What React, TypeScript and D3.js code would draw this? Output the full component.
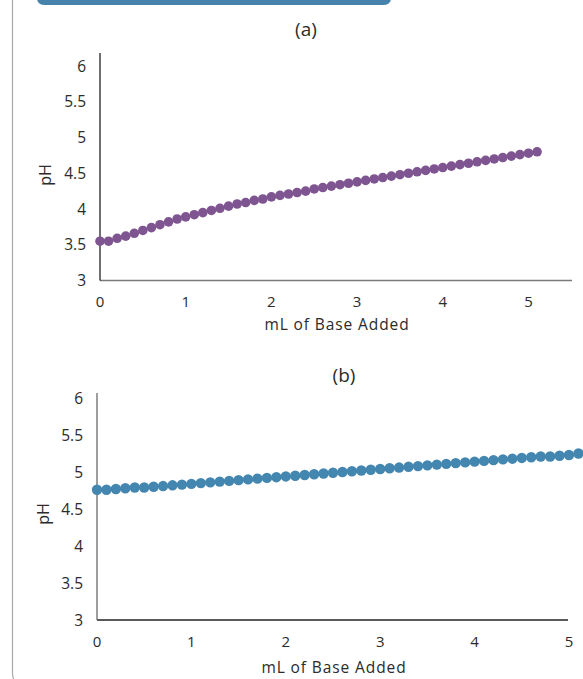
import React from "react";
import * as d3 from "d3";

const baseAdded: number[] = [
  0, 0.1, 0.2, 0.3, 0.4, 0.5, 0.6, 0.7, 0.8, 0.9,
  1.0, 1.1, 1.2, 1.3, 1.4, 1.5, 1.6, 1.7, 1.8, 1.9,
  2.0, 2.1, 2.2, 2.3, 2.4, 2.5, 2.6, 2.7, 2.8, 2.9,
  3.0, 3.1, 3.2, 3.3, 3.4, 3.5, 3.6, 3.7, 3.8, 3.9,
  4.0, 4.1, 4.2, 4.3, 4.4, 4.5, 4.6, 4.7, 4.8, 4.9,
  5.0, 5.1,
];

const phA: number[] = [
  3.55, 3.55, 3.59, 3.62, 3.66, 3.70, 3.74, 3.78, 3.82, 3.86,
  3.89, 3.92, 3.95, 3.98, 4.01, 4.04, 4.07, 4.09, 4.12, 4.14,
  4.17, 4.19, 4.21, 4.23, 4.25, 4.28, 4.30, 4.32, 4.34, 4.36,
  4.38, 4.40, 4.42, 4.44, 4.46, 4.48, 4.50, 4.52, 4.54, 4.56,
  4.58, 4.60, 4.62, 4.64, 4.66, 4.68, 4.70, 4.72, 4.74, 4.76,
  4.78, 4.80,
];

const phB: number[] = [
  4.76, 4.76, 4.77, 4.78, 4.79, 4.79, 4.80, 4.81, 4.82, 4.83,
  4.84, 4.85, 4.86, 4.87, 4.88, 4.89, 4.90, 4.91, 4.92, 4.93,
  4.94, 4.95, 4.96, 4.97, 4.98, 4.99, 5.00, 5.01, 5.02, 5.03,
  5.04, 5.05, 5.06, 5.07, 5.08, 5.09, 5.10, 5.11, 5.12, 5.13,
  5.14, 5.15, 5.16, 5.17, 5.18, 5.19, 5.20, 5.21, 5.21, 5.22,
  5.23, 5.25,
];

const yTicks: number[] = [3, 3.5, 4, 4.5, 5, 5.5, 6];
const xTicks: number[] = [0, 1, 2, 3, 4, 5];

const FONT = "'Open Sans', 'Noto Sans', sans-serif";
const TEXT = "#2b2b2b";

type PanelProps = {
  title: string;
  values: number[];
  color: string;
  x0: number; x1: number; xMax: number;
  y0: number; y6: number; yAxisTop: number;
  xAxisEnd: number;
  r: number;
  titleX: number; titleY: number;
  xLabelX: number; xLabelY: number;
  yLabelX: number; yLabelY: number;
  tickRight: number;
  xAxisColor: string;
  yAxisColor: string;
};

function Panel(p: PanelProps) {
  const x = d3.scaleLinear().domain([0, p.xMax]).range([p.x0, p.x1]);
  const y = d3.scaleLinear().domain([3, 6]).range([p.y0, p.y6]);
  const fmt = (v: number) => String(v);
  return (
    <g>
      <text x={p.titleX} y={p.titleY} textAnchor="middle" fontSize={19} fill={TEXT} fontFamily={FONT}>{p.title}</text>
      {yTicks.map((t) => (
        <text key={"y" + t} x={p.tickRight} y={y(t)} dy="0.36em" textAnchor="end" fontSize={15.5} fill={TEXT} fontFamily={FONT}>{fmt(t)}</text>
      ))}
      {xTicks.map((t) => (
        <text key={"x" + t} x={x(t)} y={p.y0 + 26.5} textAnchor="middle" fontSize={15} fill={TEXT} fontFamily={FONT}>{fmt(t)}</text>
      ))}
      <line x1={p.x0} x2={p.xAxisEnd} y1={p.y0} y2={p.y0} stroke={p.xAxisColor} strokeWidth={1.4} />
      <line x1={p.x0} x2={p.x0} y1={p.y0} y2={p.yAxisTop} stroke={p.yAxisColor} strokeWidth={1.3} />
      <text x={p.xLabelX} y={p.xLabelY} textAnchor="middle" fontSize={15.5} letterSpacing={0.9} fill={TEXT} fontFamily={FONT}>mL of Base Added</text>
      <text transform={`translate(${p.yLabelX},${p.yLabelY}) rotate(-90)`} textAnchor="middle" dy="0.35em" fontSize={16} fill={TEXT} fontFamily={FONT}>pH</text>
      {p.values.map((v, i) => (
        <circle key={i} cx={x(baseAdded[i])} cy={y(v)} r={p.r} fill={p.color} />
      ))}
    </g>
  );
}

export default function App() {
  return (
    <svg width={583} height={679} style={{ display: "block", position: "absolute", left: 0, top: 0 }}>
      <rect width={583} height={679} fill="#fff" />
      <path d="M12.5,0 L12.5,672 Q12.5,678 14,679" fill="none" stroke="#aaa" strokeWidth={1.2} />
      <path d="M37,0 L391,0 L391,-2 Q391,5 383,5 L45,5 Q37,5 37,-2 Z" fill="#4583ad" />
      <Panel
        title="(a)" values={phA} color="#7e5590"
        x0={100} x1={528.5} xMax={5} xAxisEnd={572}
        y0={280.5} y6={66} yAxisTop={53} r={4.8}
        titleX={306} titleY={36}
        xLabelX={337} xLabelY={329.5}
        yLabelX={45} yLabelY={175}
        tickRight={86}
        xAxisColor="#7a7a7a" yAxisColor="#222"
      />
      <Panel
        title="(b)" values={phB} color="#4386b0"
        x0={97} x1={569} xMax={5} xAxisEnd={568}
        y0={620} y6={398} yAxisTop={393} r={5.2}
        titleX={344} titleY={382}
        xLabelX={334} xLabelY={673}
        yLabelX={43} yLabelY={514}
        tickRight={83}
        xAxisColor="#222" yAxisColor="#6a6a6a"
      />
    </svg>
  );
}
